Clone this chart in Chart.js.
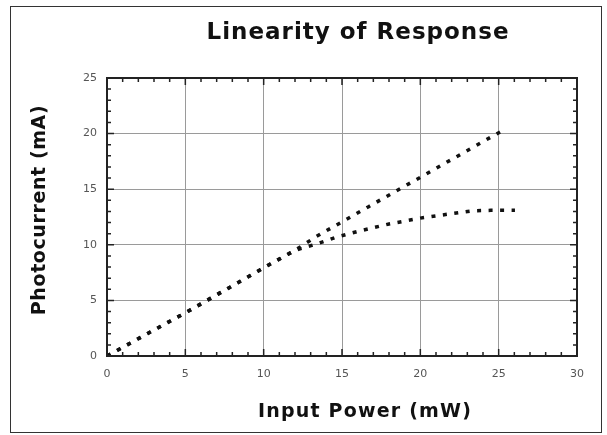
<!DOCTYPE html>
<html>
<head>
<meta charset="utf-8">
<script src="https://cdn.jsdelivr.net/npm/chart.js@4"></script>
<style>
  html, body { margin: 0; padding: 0; background: #fff; }
  #wrap { position: relative; width: 607px; height: 435px; }
  #frame { position: absolute; left: 10px; top: 6px; width: 590px; height: 425px; border: 1.5px solid #333; }
  #chart { position: absolute; left: 0; top: 0; }
</style>
</head>
<body>
<div id="wrap">
  <div id="frame"></div>
  <canvas id="chart" width="607" height="435"></canvas>
</div>
<script>
// ===== Data =====
const powerLinear   = [0, 5.4, 10.08, 12.0, 13.34, 16.7, 20.0, 25.4];
const currentLinear = [0, 4.2, 8.0, 9.5, 10.73, 13.43, 16.07, 20.4];
const powerSat      = [0, 5.4, 10.08, 12.0, 13.3, 14.66, 16.0, 18.0, 20.0, 22.0, 23.3, 24.5, 26.04];
const currentSat    = [0, 4.2, 8.0, 9.5, 10.04, 10.7, 11.2, 11.87, 12.4, 12.8, 13.05, 13.1, 13.1];
const xTicks = [0, 5, 10, 15, 20, 25, 30];
const yTicks = [0, 5, 10, 15, 20, 25];

const chartTitle = 'Linearity of Response';
const xTitle = 'Input Power (mW)';
const yTitle = 'Photocurrent (mA)';

const toPoints = (xs, ys) => xs.map((x, i) => ({ x, y: ys[i] }));

// ===== Box, minor ticks, titles =====
const decor = {
  id: 'decor',
  afterDraw(chart) {
    const { ctx, chartArea: a, scales: { x, y } } = chart;
    ctx.save();
    ctx.strokeStyle = '#222';
    ctx.lineWidth = 1.5;
    ctx.beginPath();
    for (let v = 0; v <= 30; v++) {
      const px = x.getPixelForValue(v), len = v % 5 === 0 ? 7 : 4;
      ctx.moveTo(px, a.bottom); ctx.lineTo(px, a.bottom - len);
      ctx.moveTo(px, a.top); ctx.lineTo(px, a.top + len);
    }
    for (let v = 0; v <= 25; v++) {
      const py = y.getPixelForValue(v), len = v % 5 === 0 ? 7 : 4;
      ctx.moveTo(a.left, py); ctx.lineTo(a.left + len, py);
      ctx.moveTo(a.right, py); ctx.lineTo(a.right - len, py);
    }
    ctx.stroke();
    ctx.lineWidth = 2;
    ctx.strokeRect(a.left, a.top, a.right - a.left, a.bottom - a.top);

    ctx.fillStyle = '#111';
    ctx.textAlign = 'center';
    ctx.textBaseline = 'middle';
    ctx.font = 'bold 23px "DejaVu Sans"';
    ctx.letterSpacing = '1px';
    ctx.fillText(chartTitle, a.left + 251, 33);
    ctx.font = 'bold 19px "DejaVu Sans"';
    ctx.letterSpacing = '1.2px';
    ctx.fillText(xTitle, a.left + 258, 412);
    ctx.letterSpacing = '0.6px';
    ctx.translate(40, 210);
    ctx.rotate(-Math.PI / 2);
    ctx.fillText(yTitle, 0, 0);
    ctx.restore();
  }
};

const dotted = {
  showLine: true, pointRadius: 0, borderColor: '#111', borderWidth: 3.5,
  borderDash: [4, 7.5], borderCapStyle: 'butt', tension: 0, fill: false
};

new Chart(document.getElementById('chart'), {
  type: 'scatter',
  data: {
    datasets: [
      { label: 'linear', data: toPoints(powerLinear, currentLinear), ...dotted },
      { label: 'saturating', data: toPoints(powerSat, currentSat), ...dotted }
    ]
  },
  options: {
    responsive: false, animation: false,
    layout: { padding: { top: 78, right: 30, left: 0, bottom: 0 } },
    plugins: { legend: { display: false }, tooltip: { enabled: false } },
    scales: {
      x: {
        type: 'linear', min: 0, max: 30,
        afterBuildTicks: s => { s.ticks = xTicks.map(v => ({ value: v })); },
        afterFit: s => { s.height = 435 - 356; },
        grid: { color: '#9a9a9a', lineWidth: 1, drawTicks: false },
        border: { display: false },
        ticks: { color: '#555', padding: 12, font: { family: 'DejaVu Sans', size: 11 }, maxRotation: 0 }
      },
      y: {
        type: 'linear', min: 0, max: 25,
        afterBuildTicks: s => { s.ticks = yTicks.map(v => ({ value: v })); },
        afterFit: s => { s.width = 107; },
        grid: { color: '#9a9a9a', lineWidth: 1, drawTicks: false },
        border: { display: false },
        ticks: { color: '#555', padding: 10, font: { family: 'DejaVu Sans', size: 11 } }
      }
    }
  },
  plugins: [decor]
});
</script>
</body>
</html>
